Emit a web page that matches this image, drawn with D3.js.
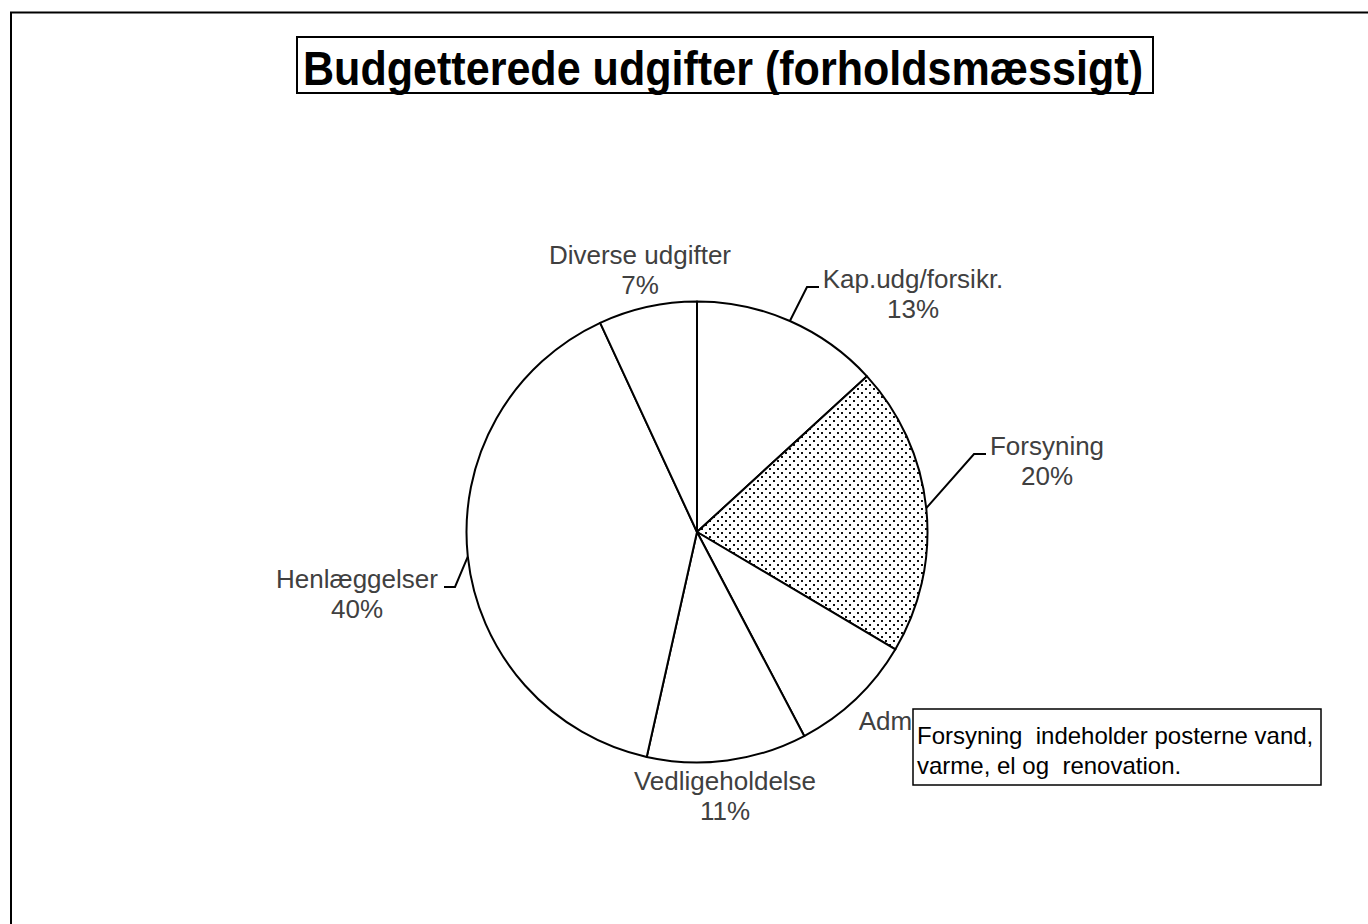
<!DOCTYPE html>
<html>
<head>
<meta charset="utf-8">
<script src="https://cdn.jsdelivr.net/npm/d3@7/dist/d3.min.js"></script>
<style>
  html, body { margin: 0; padding: 0; background: #fff; }
  svg { display: block; }
</style>
</head>
<body>
<svg id="chart" width="1368" height="924"></svg>
<script>
// ---- data ----
const titleText = "Budgetterede udgifter (forholdsmæssigt)";
const categories = ["Kap.udg/forsikr.", "Forsyning", "Administration", "Vedligeholdelse", "Henlæggelser", "Diverse udgifter"];
const values = [13.2, 20.3, 8.8, 11.2, 39.6, 6.9];
const patterned = [false, true, false, false, false, false];
const noteLines = ["Forsyning  indeholder posterne vand,", "varme, el og  renovation."];

// ---- layout ----
const W = 1368, H = 924;
const cx = 697, cy = 532, R = 230.5;
// label anchors: [center x, first baseline y]
const labelPos = [
  [913, 288], [1047, 455], [941, 730], [725, 790], [357, 588], [640, 264]
];
// leader lines: [elbowX, endX] (elbow y = baseline - 1); null = no leader
const leaders = [
  [807, 819], [974, 986], null, null, [455, 444], null
];

const svg = d3.select("#chart");
const defs = svg.append("defs");
const pat = defs.append("pattern")
  .attr("id", "dots").attr("patternUnits", "userSpaceOnUse")
  .attr("width", 8).attr("height", 8);
pat.append("rect").attr("width", 8).attr("height", 8).attr("fill", "#fff");
pat.append("rect").attr("x", 0).attr("y", 0).attr("width", 2).attr("height", 2).attr("fill", "#111");
pat.append("rect").attr("x", 4).attr("y", 4).attr("width", 2).attr("height", 2).attr("fill", "#111");

svg.append("rect").attr("width", W).attr("height", H).attr("fill", "#fff");

// outer frame (extends past the window)
svg.append("rect")
  .attr("x", 11).attr("y", 12.5).attr("width", W + 20).attr("height", H + 20)
  .attr("fill", "none").attr("stroke", "#000").attr("stroke-width", 2);

// title box
svg.append("rect")
  .attr("x", 297).attr("y", 37).attr("width", 856).attr("height", 56)
  .attr("fill", "#fff").attr("stroke", "#000").attr("stroke-width", 2);
svg.append("text")
  .attr("x", 303).attr("y", 84.5)
  .attr("font-family", "Liberation Sans, Arial, sans-serif")
  .attr("font-weight", "bold").attr("font-size", 49)
  .attr("textLength", 840).attr("lengthAdjust", "spacingAndGlyphs")
  .attr("fill", "#000")
  .text(titleText);

// pie
const pie = d3.pie().sort(null).value(d => d)(values);
const arc = d3.arc().innerRadius(0).outerRadius(R);
const g = svg.append("g").attr("transform", `translate(${cx},${cy})`);
g.selectAll("path.slice").data(pie).join("path")
  .attr("class", "slice")
  .attr("d", arc)
  .attr("fill", (d, i) => patterned[i] ? "url(#dots)" : "#fff")
  .attr("stroke", "#000").attr("stroke-width", 2)
  .attr("stroke-linejoin", "round");

// leader lines
pie.forEach((d, i) => {
  const L = leaders[i];
  if (!L) return;
  const a = (d.startAngle + d.endAngle) / 2;
  const sx = cx + R * Math.sin(a), sy = cy - R * Math.cos(a);
  const ly = labelPos[i][1] - 1;
  svg.append("polyline")
    .attr("points", `${sx},${sy} ${L[0]},${ly} ${L[1]},${ly}`)
    .attr("fill", "none").attr("stroke", "#000").attr("stroke-width", 2);
});

// labels
const fmt = v => Math.round(v) + "%";
categories.forEach((c, i) => {
  const t = svg.append("text")
    .attr("text-anchor", "middle")
    .attr("font-family", "Liberation Sans, Arial, sans-serif")
    .attr("font-size", 26).attr("fill", "#404040");
  t.append("tspan").attr("x", labelPos[i][0]).attr("y", labelPos[i][1]).text(c);
  t.append("tspan").attr("x", labelPos[i][0]).attr("y", labelPos[i][1] + 30).text(fmt(values[i]));
});

// note box (drawn over the Administration label, as in the original)
svg.append("rect")
  .attr("x", 913).attr("y", 709).attr("width", 408).attr("height", 76)
  .attr("fill", "#fff").attr("stroke", "#000").attr("stroke-width", 1.5);
const nt = svg.append("text")
  .attr("font-family", "Liberation Sans, Arial, sans-serif")
  .attr("font-size", 24).attr("fill", "#000");
noteLines.forEach((l, i) => {
  nt.append("tspan").attr("x", 917).attr("y", 744 + i * 30).style("white-space", "pre").text(l);
});
</script>
</body>
</html>
